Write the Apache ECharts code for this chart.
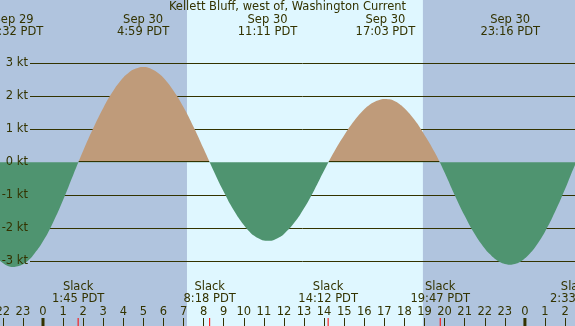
<!DOCTYPE html>
<html>
<head>
<meta charset="utf-8">
<script src="https://cdn.jsdelivr.net/npm/echarts@6/dist/echarts.min.js"></script>
<style>
  html, body { margin: 0; padding: 0; background: #b0c4de; }
  #chart { width: 575px; height: 326px; }
</style>
</head>
<body>
<div id="chart"></div>
<script>
// hours after Sep 30 00:00 PDT, current in knots (denser near the turns)
var hours = [-2.5, -2.25, -2, -1.75, -1.5, -1.25, -1, -0.75, -0.5, 0, 0.5, 1, 1.5, 2, 2.5, 3, 3.5, 4,
  4.25, 4.5, 4.75, 5, 5.25, 5.5, 5.75, 6, 6.5, 7, 7.5, 8, 8.5, 9, 9.5, 10,
  10.25, 10.5, 10.75, 11, 11.25, 11.5, 11.75, 12, 12.5, 13, 13.5, 14, 14.5, 15, 15.5, 16,
  16.25, 16.5, 16.75, 17, 17.25, 17.5, 17.75, 18, 18.5, 19, 19.5, 20, 20.5, 21, 21.5, 22,
  22.25, 22.5, 22.75, 23, 23.25, 23.5, 23.75, 24, 24.25, 24.5, 25, 25.5, 26, 26.5, 27];
var knots = [-2.73, -2.91, -3.05, -3.14, -3.17, -3.15, -3.09, -2.98, -2.82, -2.39, -1.82, -1.14, -0.39, 0.35, 1.03, 1.65, 2.17, 2.57,
  2.71, 2.81, 2.87, 2.89, 2.87, 2.80, 2.70, 2.56, 2.17, 1.67, 1.07, 0.41, -0.26, -0.89, -1.45, -1.90,
  -2.08, -2.22, -2.31, -2.37, -2.38, -2.35, -2.28, -2.17, -1.84, -1.39, -0.85, -0.25, 0.32, 0.82, 1.26, 1.61,
  1.74, 1.83, 1.89, 1.92, 1.91, 1.86, 1.77, 1.64, 1.29, 0.83, 0.31, -0.31, -0.99, -1.62, -2.17, -2.61,
  -2.78, -2.92, -3.02, -3.08, -3.10, -3.08, -3.02, -2.91, -2.76, -2.58, -2.10, -1.50, -0.81, -0.07, 0.56];
var ktTicks = [-3, -2, -1, 0, 1, 2, 3];
var daylight = [7.17, 18.92];
var extremeHours = [-1.467, 4.983, 11.183, 17.05, 23.267];
var extremeLabels = ['Sep 29\n22:32 PDT', 'Sep 30\n4:59 PDT', 'Sep 30\n11:11 PDT', 'Sep 30\n17:03 PDT', 'Sep 30\n23:16 PDT'];
var slackHours = [1.75, 8.3, 14.2, 19.783, 26.55];
var slackLabels = ['Slack\n1:45 PDT', 'Slack\n8:18 PDT', 'Slack\n14:12 PDT', 'Slack\n19:47 PDT', 'Slack\n2:33 PDT'];
var midnights = [0, 24];

(function() {
  var ink = '#333300';
  var flood = '#bf9b7a';
  var ebb = '#4f9470';
  var night = '#b0c4de';
  var day = '#dff7ff';
  var font = 'DejaVu Sans';
  var fs = 11.5;

  var chart = echarts.init(document.getElementById('chart'));
  var curve = hours.map(function(h, i) { return [h, knots[i]]; });

  function txt(x, y, text, align) {
    return {
      type: 'text', x: x, y: y,
      style: { text: text, align: align || 'center', verticalAlign: 'top', lineHeight: 12,
        fill: ink, font: fs + 'px "' + font + '"' }
    };
  }

  chart.setOption({
    animation: false,
    backgroundColor: night,
    title: {
      text: 'Kellett Bluff, west of, Washington Current',
      left: 'center', top: 0, padding: [1, 0],
      textStyle: { color: ink, fontFamily: font, fontSize: fs, fontWeight: 'normal', lineHeight: 12 }
    },
    grid: [
      { left: -17.24, width: 602.4, top: 0, height: 326, outerBoundsMode: 'none', containLabel: false },
      { left: 30, right: 0, top: 63.34, height: 198, outerBoundsMode: 'none', containLabel: false }
    ],
    xAxis: [
      {
        gridIndex: 0, type: 'value', min: -3, max: 27, interval: 1, z: 5, position: 'bottom',
        axisLine: { show: false, onZero: false },
        splitLine: { show: false },
        axisTick: { inside: true, length: 8, lineStyle: { color: ink } },
        axisLabel: {
          inside: true, margin: 8, color: ink, fontFamily: font, fontSize: fs,
          formatter: function(v) { return ((v % 24) + 24) % 24; }
        }
      },
      { gridIndex: 1, type: 'value', min: -3, max: 27, show: false }
    ],
    yAxis: [
      { gridIndex: 0, type: 'value', min: -4.96, max: 4.92, show: false },
      {
        gridIndex: 1, type: 'value', min: -3, max: 3, interval: 1, z: 1,
        axisLine: { show: false }, axisTick: { show: false }, axisLabel: { show: false },
        splitLine: { lineStyle: { color: [ink, ink, ink, 'rgba(0,0,0,0)', ink, ink, ink] } }
      }
    ],
    visualMap: {
      type: 'piecewise', show: false, seriesIndex: 0, dimension: 1,
      // thin dark band just above zero gives the edge under the flood fill
      pieces: [
        { gt: -20, lte: 0, color: ebb },
        { gt: 0, lte: 0.03, color: ink },
        { gt: 0.03, lte: 20, color: flood }
      ],
      outOfRange: { color: ebb }
    },
    series: [
      {
        type: 'line', xAxisIndex: 0, yAxisIndex: 0, data: curve, smooth: true,
        symbol: 'none', z: 2,
        lineStyle: { width: 0 },
        areaStyle: { opacity: 1 },
        markArea: {
          silent: true, z: 0,
          itemStyle: { color: day },
          data: [[{ xAxis: daylight[0] }, { xAxis: daylight[1] }]]
        }
      },
      {
        type: 'custom', xAxisIndex: 0, yAxisIndex: 0, z: 6, silent: true,
        data: extremeHours.map(function(h) { return [h, 0]; }),
        renderItem: function(params, api) {
          var x = api.coord([api.value(0), 0])[0];
          return txt(x, 14, extremeLabels[params.dataIndex]);
        }
      },
      {
        type: 'custom', xAxisIndex: 0, yAxisIndex: 0, z: 6, silent: true,
        data: slackHours.map(function(h) { return [h, 0]; }),
        renderItem: function(params, api) {
          var x = api.coord([api.value(0), 0])[0];
          return {
            type: 'group',
            children: [
              txt(x, 281.3, slackLabels[params.dataIndex]),
              { type: 'line', shape: { x1: x, y1: 318, x2: x, y2: 326 }, style: { stroke: '#ff0000', lineWidth: 1 } }
            ]
          };
        }
      },
      {
        type: 'custom', xAxisIndex: 0, yAxisIndex: 0, z: 6, silent: true,
        data: midnights.map(function(h) { return [h, 0]; }),
        renderItem: function(params, api) {
          var x = api.coord([api.value(0), 0])[0];
          return { type: 'rect', shape: { x: x - 1.5, y: 318, width: 3, height: 8 }, style: { fill: ink } };
        }
      },
      {
        type: 'custom', xAxisIndex: 0, yAxisIndex: 0, z: 6, silent: true,
        data: ktTicks.map(function(v) { return [0, v]; }),
        renderItem: function(params, api) {
          var y = api.coord([0, api.value(1)])[1];
          var t = txt(28, y, api.value(1) + ' kt', 'right');
          t.style.verticalAlign = 'middle';
          return t;
        }
      }
    ]
  });
  window.addEventListener('resize', function() { chart.resize(); });
})();
</script>
</body>
</html>
